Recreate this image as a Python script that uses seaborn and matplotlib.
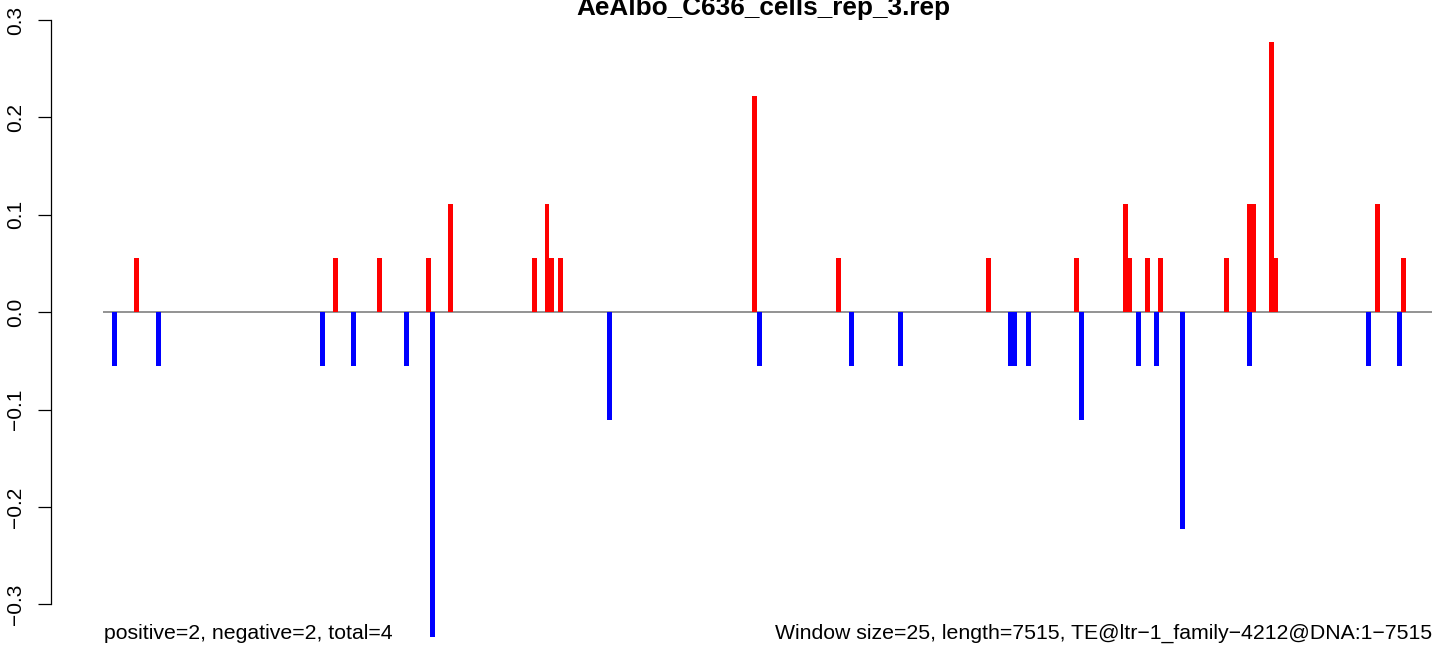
import numpy as np
import pandas as pd
import matplotlib
matplotlib.use("Agg")
import matplotlib.pyplot as plt
import seaborn as sns

# window positions (bp) and signed fractions
pos_x = [188, 1314, 1562, 1840, 1964, 2439, 2510, 2535, 2586, 3683, 4158,
         5006, 5504, 5781, 5806, 5905, 5979, 6352, 6482, 6507, 6606, 6631,
         7206, 7353]
pos_y = [1, 1, 1, 1, 2, 1, 2, 1, 1, 4, 1,
         1, 1, 2, 1, 1, 1, 1, 2, 2, 5, 1,
         2, 1]
neg_x = [64, 313, 1240, 1415, 1715, 1862, 2863, 3711, 4232, 4509, 5132,
         5157, 5232, 5532, 5854, 5956, 6103, 6482, 7155, 7330]
neg_y = [-1, -1, -1, -1, -1, -6, -2, -1, -1, -1, -1,
         -1, -1, -2, -1, -1, -4, -1, -1, -1]
scale = 18.0

title = "AeAlbo_C636_cells_rep_3.rep"
left_note = "positive=2, negative=2, total=4"
right_note = "Window size=25, length=7515, TE@ltr\u22121_family\u22124212@DNA:1\u22127515"
seq_len = 7515
yticks = [-0.3, -0.2, -0.1, 0.0, 0.1, 0.2, 0.3]

df = pd.DataFrame({
    "pos": pos_x + neg_x,
    "val": [v / scale for v in pos_y] + [v / scale for v in neg_y],
    "strand": ["plus"] * len(pos_x) + ["minus"] * len(neg_x),
})

sns.set_style("white")
plt.rcParams["font.family"] = ["Liberation Sans", "DejaVu Sans"]
plt.rcParams["text.color"] = "black"
plt.rcParams["ytick.color"] = "black"
plt.rcParams["axes.labelcolor"] = "black"

fig = plt.figure(figsize=(14.44, 6.47), dpi=100)
ax = fig.add_axes([103 / 1444, 0, 1329 / 1444, 1])

min_gap = np.diff(np.sort(df["pos"].unique())).min()
sns.barplot(data=df, x="pos", y="val", hue="strand", native_scale=True,
            dodge=False, palette={"plus": "#ff0000", "minus": "#0000ff"},
            width=26.4 / min_gap, errorbar=None, legend=False,
            saturation=1, linewidth=0, ax=ax)

ax.axhline(0, color="#808080", lw=1.2, zorder=0)
ax.set_xlim(0, seq_len)
ax.set_ylim(-0.3438, 0.3206)

for s in ["top", "right", "bottom"]:
    ax.spines[s].set_visible(False)
ax.spines["left"].set_position(("outward", 37.7))
ax.spines["left"].set_bounds(-0.3, 0.3)
ax.spines["left"].set_linewidth(0.9)
ax.spines["left"].set_color("black")
ax.set_xticks([])
ax.set_yticks(yticks)
ax.set_yticklabels([f"{t:.1f}".replace("-", "\u2212") for t in yticks],
                   rotation=90, va="center", fontsize=15, color="black")
ax.tick_params(axis="y", left=True, length=9.1, width=0.9, pad=9,
               color="black", labelcolor="black")
ax.set_xlabel("")
ax.set_ylabel("")
ax.patch.set_alpha(0)

fig.text((103 + 1432) / 2 / 1444 - 0.003, 1 - 15 / 647, title,
         ha="center", va="baseline", fontsize=18.8, fontweight="bold",
         color="black")
fig.text(104 / 1444, 8 / 647, left_note, ha="left", va="baseline",
         fontsize=15.3, color="black")
fig.text(1432 / 1444, 8 / 647, right_note, ha="right", va="baseline",
         fontsize=15.3, color="black")

fig.savefig("out.png", dpi=100)
